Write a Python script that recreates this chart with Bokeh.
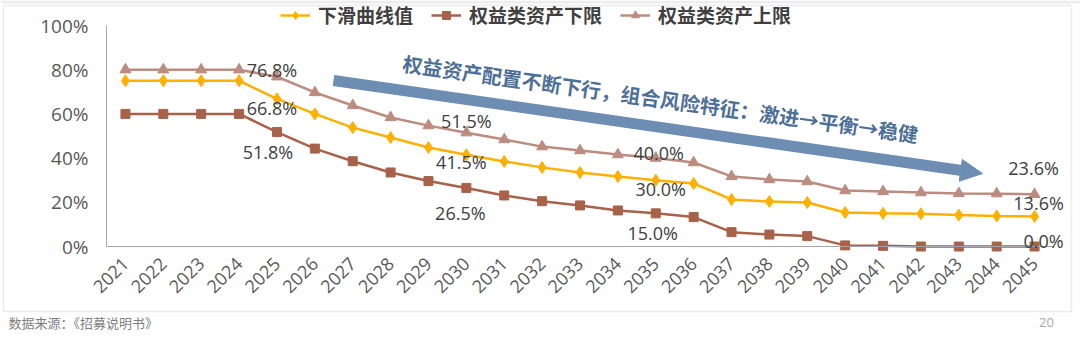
import numpy as np
from bokeh.plotting import figure
from bokeh.models import (ColumnDataSource, Range1d, FixedTicker, NumeralTickFormatter,
                          Legend, LegendItem, LabelSet, Label, Arrow, NormalHead, BoxAnnotation)
from bokeh.core.properties import value
from bokeh.embed import file_html
from bokeh.resources import INLINE

# ---------------- data ----------------
years = [str(y) for y in range(2021, 2046)]
glide = [0.750, 0.750, 0.750, 0.750, 0.668, 0.600, 0.538, 0.493, 0.448, 0.415,
         0.385, 0.358, 0.335, 0.317, 0.300, 0.285, 0.213, 0.204, 0.199, 0.154,
         0.150, 0.148, 0.142, 0.138, 0.136]
lower = [0.600, 0.600, 0.600, 0.600, 0.518, 0.443, 0.386, 0.335, 0.296, 0.265,
         0.231, 0.205, 0.186, 0.163, 0.150, 0.133, 0.065, 0.054, 0.047, 0.005,
         0.003, 0.000, 0.000, 0.000, 0.000]
upper = [0.800, 0.800, 0.800, 0.800, 0.768, 0.697, 0.638, 0.584, 0.547, 0.515,
         0.484, 0.452, 0.434, 0.416, 0.400, 0.380, 0.317, 0.303, 0.294, 0.253,
         0.249, 0.244, 0.240, 0.239, 0.236]
series_names = ["下滑曲线值", "权益类资产下限", "权益类资产上限"]
label_years = ["2025", "2030", "2035", "2045"]
y_ticks = [0.0, 0.2, 0.4, 0.6, 0.8, 1.0]
annotation_text = "权益资产配置不断下行，组合风险特征：激进→平衡→稳健"
source_text = "数据来源：《招募说明书》"
page_number = "20"

# ---------------- styles / positions ----------------
C_GLIDE = "#FFB000"
C_LOWER = "#A86249"
C_UPPER = "#BC8C80"
C_ARROW = "#6E8DB2"
C_ARROW_TEXT = "#4E6F98"
TXT = "#404040"
NUM_FONT = "Open Sans"
CJK_FONT = "Noto Sans CJK SC"

# label offsets in pixels (dx, dy_up) for each labelled year
off_upper = [(-5, 7), (0, 12), (3, 5), (-1, 26)]
off_glide = [(-5, -9), (-5, -7), (5, -9), (4, 13)]
off_lower = [(-9, -20), (-6, -25), (-3, -20), (9, 6)]

W, H = 1080, 337
AX_L, AX_R = 106, 1053   # pixel columns of the category band
AX_B, Y100 = 246, 25     # pixel rows of 0% and 100%

n = len(years)
xs = np.arange(n) + 0.5
px_x = (AX_R - AX_L) / n
px_y = (AX_B - Y100)


def px2data(px, py):
    return (px - AX_L) / px_x, (AX_B - py) / px_y


x0, y0 = px2data(0, H)
x1, y1 = px2data(W, 0)

p = figure(width=W, height=H, x_range=Range1d(x0, x1), y_range=Range1d(y0, y1),
           output_backend="svg", toolbar_location=None,
           min_border=0, min_border_left=0, min_border_right=0,
           min_border_top=0, min_border_bottom=0)
p.outline_line_color = None
p.grid.visible = False
p.background_fill_color = "white"
p.border_fill_color = "white"

# axes placed at fixed data locations inside the frame
for ax in (p.xaxis[0], p.yaxis[0]):
    ax.fixed_location = 0
    ax.axis_line_color = "#A6A6A6"
    ax.axis_line_width = 1
    ax.major_tick_out = 0
    ax.major_tick_in = 0
    ax.minor_tick_out = 0
    ax.minor_tick_in = 0
    ax.major_label_text_font = NUM_FONT
    ax.major_label_text_color = "#595959"

p.xaxis.ticker = FixedTicker(ticks=list(xs))
p.xaxis.major_label_overrides = {float(x): yr for x, yr in zip(xs, years)}
p.xaxis.major_label_orientation = np.pi / 4
p.xaxis.major_label_text_font_size = "18px"
p.xaxis.major_label_standoff = 14
p.xaxis.bounds = (0, n)

p.yaxis.ticker = FixedTicker(ticks=y_ticks)
p.yaxis.formatter = NumeralTickFormatter(format="0%")
p.yaxis.bounds = (0, 1)
p.yaxis.major_label_text_font_size = "19px"
p.yaxis.major_label_standoff = 18

# series
renderers = {}
specs = [
    ("upper", upper, C_UPPER, "triangle", 11),
    ("lower", lower, C_LOWER, "square", 9),
    ("glide", glide, C_GLIDE, "diamond", 12),
]
for key, vals, col, mk, sz in specs:
    src = ColumnDataSource(dict(x=xs, y=vals))
    rl = p.line("x", "y", source=src, line_color=col, line_width=2.5)
    rs = p.scatter("x", "y", source=src, marker=mk, size=sz, fill_color=col, line_color=col)
    renderers[key] = [rl, rs]

legend = Legend(items=[
    LegendItem(label=series_names[0], renderers=renderers["glide"]),
    LegendItem(label=series_names[1], renderers=renderers["lower"]),
    LegendItem(label=series_names[2], renderers=renderers["upper"]),
], orientation="horizontal", location=(280, H - 28),
    glyph_width=30, glyph_height=20, label_height=20, label_standoff=8, spacing=18,
    padding=0, margin=0, border_line_color=None, background_fill_alpha=0,
    label_text_font=CJK_FONT, label_text_font_style="bold",
    label_text_font_size="19px", label_text_color=TXT)
p.add_layout(legend, "center")

# data labels
lx, ly, lt, ldx, ldy = [], [], [], [], []
for vals, offs in ((upper, off_upper), (glide, off_glide), (lower, off_lower)):
    for yr, (dx, dy) in zip(label_years, offs):
        i = years.index(yr)
        lx.append(xs[i]); ly.append(vals[i]); lt.append(f"{vals[i] * 100:.1f}%")
        ldx.append(dx); ldy.append(dy)
lab_src = ColumnDataSource(dict(x=lx, y=ly, t=lt, dx=ldx, dy=ldy))
p.add_layout(LabelSet(x="x", y="y", text="t", source=lab_src, x_offset="dx", y_offset="dy",
                      text_align="center", text_baseline="middle",
                      text_font=value(NUM_FONT), text_font_size="18px", text_color=TXT))

# trend arrow + rotated text
ax0, ay0 = px2data(333, 80)
ax1, ay1 = px2data(982, 173)
p.add_layout(Arrow(end=NormalHead(size=22, fill_color=C_ARROW, line_color=C_ARROW),
                   x_start=ax0, y_start=ay0, x_end=ax1, y_end=ay1,
                   line_color=C_ARROW, line_width=11))
tx, ty = px2data(660, 98)
p.add_layout(Label(x=tx, y=ty, text=annotation_text, angle=-0.138,
                   text_align="center", text_baseline="middle",
                   text_font=CJK_FONT, text_font_style="bold", text_font_size="20px",
                   text_color=C_ARROW_TEXT))

# slide frame, top strip, source & page number
bx0, by0 = px2data(0, 3)
bx1, by1 = px2data(W, 0)
p.add_layout(BoxAnnotation(left=bx0, right=bx1, top=by1, bottom=by0,
                           fill_color="#EDEDED", fill_alpha=1, line_color=None))
fx0, fy0 = px2data(3, 311)
fx1, fy1 = px2data(1071, 5)
p.add_layout(BoxAnnotation(left=fx0, right=fx1, top=fy1, bottom=fy0,
                           fill_alpha=0, line_color="#BFBFBF", line_width=1.5))
sx, sy = px2data(8, 322)
p.add_layout(Label(x=sx, y=sy, text=source_text, text_baseline="middle", text_font=CJK_FONT,
                   text_font_size="13px", text_color="#7F7F7F"))
nx, ny = px2data(1046, 322)
p.add_layout(Label(x=nx, y=ny, text=page_number, text_align="center", text_baseline="middle",
                   text_font=NUM_FONT, text_font_size="13px", text_color="#A6A6A6"))

open("out.html", "w").write(file_html(p, INLINE))
